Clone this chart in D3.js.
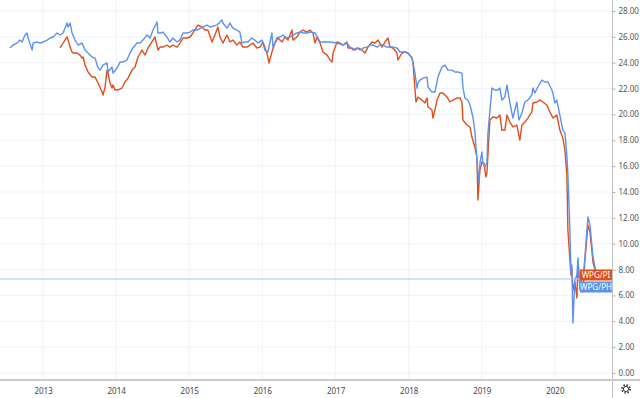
<!DOCTYPE html>
<html>
<head>
<meta charset="utf-8">
<script src="https://cdn.jsdelivr.net/npm/d3@7"></script>
<style>
	body { margin: 0; background: #fff; }
	text { font-family: "Noto Sans", sans-serif; }
</style>
</head>
<body>
<div id="chart"></div>
<script>
// decimal years
const phDates = [2012.549, 2012.590, 2012.644, 2012.685, 2012.713, 2012.754, 2012.781, 2012.795, 2012.850, 2012.863,
	2012.918, 2012.959, 2013.000, 2013.055, 2013.096, 2013.137, 2013.191, 2013.232, 2013.273, 2013.301,
	2013.328, 2013.342, 2013.369, 2013.396, 2013.437, 2013.478, 2013.533, 2013.574, 2013.615, 2013.670,
	2013.711, 2013.752, 2013.779, 2013.820, 2013.875, 2013.889, 2013.943, 2013.957, 2014.012, 2014.053,
	2014.094, 2014.148, 2014.189, 2014.230, 2014.285, 2014.326, 2014.367, 2014.422, 2014.463, 2014.504,
	2014.559, 2014.572, 2014.600, 2014.641, 2014.695, 2014.736, 2014.777, 2014.832, 2014.873, 2014.914,
	2014.969, 2015.010, 2015.051, 2015.105, 2015.187, 2015.242, 2015.283, 2015.379, 2015.447, 2015.461,
	2015.516, 2015.557, 2015.598, 2015.652, 2015.693, 2015.721, 2015.762, 2015.803, 2015.857, 2015.898,
	2015.939, 2015.994, 2016.035, 2016.076, 2016.131, 2016.144, 2016.199, 2016.240, 2016.281, 2016.336,
	2016.377, 2016.418, 2016.473, 2016.514, 2016.555, 2016.609, 2016.650, 2016.719, 2016.760, 2016.787,
	2016.828, 2016.924, 2017.020, 2017.102, 2017.156, 2017.197, 2017.238, 2017.293, 2017.334, 2017.375,
	2017.430, 2017.471, 2017.512, 2017.566, 2017.607, 2017.648, 2017.703, 2017.744, 2017.785, 2017.840,
	2017.881, 2017.949, 2017.990, 2018.045, 2018.086, 2018.113, 2018.127, 2018.154, 2018.195, 2018.250,
	2018.264, 2018.318, 2018.359, 2018.400, 2018.455, 2018.496, 2018.537, 2018.592, 2018.633, 2018.674,
	2018.728, 2018.742, 2018.769, 2018.810, 2018.838, 2018.879, 2018.906, 2018.933, 2018.961, 2018.974,
	2019.002, 2019.015, 2019.043, 2019.070, 2019.084, 2019.139, 2019.180, 2019.221, 2019.248, 2019.275,
	2019.316, 2019.344, 2019.385, 2019.426, 2019.480, 2019.508, 2019.549, 2019.590, 2019.631, 2019.685,
	2019.699, 2019.726, 2019.767, 2019.822, 2019.863, 2019.904, 2019.959, 2019.973, 2020.000, 2020.027,
	2020.068, 2020.109, 2020.137, 2020.164, 2020.178, 2020.205, 2020.219, 2020.232, 2020.246, 2020.273,
	2020.301, 2020.315, 2020.342, 2020.369, 2020.383, 2020.410, 2020.451, 2020.479, 2020.520, 2020.547,
	2020.574, 2020.615];
const phValues = [25.14, 25.37, 25.52, 25.75, 25.60, 26.14, 26.30, 25.91, 24.98, 25.52,
	25.60, 25.52, 25.60, 25.75, 25.91, 25.99, 26.30, 26.14, 26.30, 26.68,
	27.07, 26.76, 27.07, 26.30, 25.75, 25.37, 25.52, 24.98, 24.75, 24.44,
	24.36, 23.59, 23.43, 23.82, 23.98, 23.28, 23.67, 23.20, 23.59, 24.05,
	24.05, 24.21, 24.75, 25.14, 25.52, 25.52, 25.75, 26.14, 25.91, 26.53,
	27.15, 26.30, 26.30, 26.37, 25.99, 25.60, 25.91, 25.60, 25.75, 26.30,
	26.30, 26.37, 26.53, 26.53, 26.76, 26.91, 26.76, 26.91, 27.30, 27.07,
	26.68, 27.07, 26.68, 26.53, 26.37, 25.52, 25.60, 25.60, 25.91, 25.75,
	25.52, 25.75, 24.98, 24.83, 26.30, 25.21, 25.91, 25.99, 26.14, 25.91,
	25.99, 26.14, 26.30, 26.37, 26.30, 26.30, 26.37, 26.30, 25.91, 25.60,
	25.60, 25.60, 25.52, 25.37, 25.52, 25.21, 24.98, 25.14, 24.98, 25.14,
	25.21, 25.37, 25.37, 25.21, 25.37, 25.37, 25.21, 25.21, 25.21, 25.14,
	24.83, 24.83, 24.75, 24.36, 23.20, 22.04, 22.43, 22.66, 22.81, 22.89,
	22.12, 21.73, 21.73, 22.89, 23.67, 23.82, 23.43, 23.43, 23.28, 23.28,
	23.20, 22.12, 21.27, 21.11, 20.73, 19.80, 18.64, 16.47, 14.69, 16.24,
	17.09, 16.24, 15.93, 16.24, 18.56, 22.04, 21.89, 21.89, 22.04, 21.11,
	21.35, 22.27, 20.88, 19.72, 20.96, 19.57, 20.11, 20.96, 21.11, 21.50,
	22.04, 21.66, 22.12, 22.66, 22.51, 22.51, 21.89, 21.66, 20.88, 21.11,
	19.95, 18.79, 18.56, 16.86, 15.31, 11.06, 7.73, 8.35, 3.87, 7.19,
	7.58, 8.89, 6.42, 7.73, 7.19, 8.97, 12.07, 11.45, 8.97, 8.20,
	7.42, 7.27];

const piDates = [2013.232, 2013.273, 2013.328, 2013.342, 2013.369, 2013.396, 2013.410, 2013.465, 2013.506, 2013.533,
	2013.547, 2013.574, 2013.615, 2013.670, 2013.711, 2013.752, 2013.807, 2013.820, 2013.848, 2013.875,
	2013.889, 2013.916, 2013.943, 2013.957, 2013.984, 2014.025, 2014.080, 2014.121, 2014.162, 2014.217,
	2014.258, 2014.299, 2014.353, 2014.395, 2014.436, 2014.504, 2014.531, 2014.572, 2014.600, 2014.641,
	2014.695, 2014.736, 2014.777, 2014.832, 2014.873, 2014.914, 2014.969, 2015.010, 2015.051, 2015.119,
	2015.174, 2015.215, 2015.256, 2015.310, 2015.351, 2015.392, 2015.420, 2015.461, 2015.516, 2015.557,
	2015.598, 2015.652, 2015.693, 2015.734, 2015.789, 2015.830, 2015.871, 2015.926, 2015.967, 2016.008,
	2016.063, 2016.090, 2016.131, 2016.172, 2016.213, 2016.268, 2016.309, 2016.350, 2016.404, 2016.418,
	2016.473, 2016.514, 2016.555, 2016.609, 2016.650, 2016.691, 2016.719, 2016.746, 2016.787, 2016.828,
	2016.883, 2016.924, 2016.951, 2016.965, 2017.020, 2017.061, 2017.102, 2017.156, 2017.170, 2017.225,
	2017.266, 2017.307, 2017.361, 2017.402, 2017.443, 2017.498, 2017.539, 2017.580, 2017.635, 2017.676,
	2017.717, 2017.744, 2017.785, 2017.840, 2017.853, 2017.908, 2017.949, 2017.990, 2018.045, 2018.058,
	2018.099, 2018.127, 2018.181, 2018.222, 2018.250, 2018.264, 2018.318, 2018.332, 2018.359, 2018.387,
	2018.428, 2018.469, 2018.523, 2018.564, 2018.605, 2018.660, 2018.701, 2018.728, 2018.742, 2018.797,
	2018.838, 2018.865, 2018.906, 2018.933, 2018.947, 2018.974, 2019.002, 2019.029, 2019.056, 2019.070,
	2019.111, 2019.152, 2019.207, 2019.248, 2019.275, 2019.316, 2019.344, 2019.385, 2019.426, 2019.480,
	2019.521, 2019.549, 2019.590, 2019.631, 2019.685, 2019.699, 2019.754, 2019.795, 2019.836, 2019.890,
	2019.932, 2019.973, 2020.027, 2020.068, 2020.109, 2020.137, 2020.164, 2020.178, 2020.219, 2020.232,
	2020.246, 2020.273, 2020.301, 2020.315, 2020.342, 2020.383, 2020.410, 2020.451, 2020.479, 2020.520,
	2020.547, 2020.574, 2020.615];
const piValues = [25.14, 25.52, 25.99, 25.75, 25.21, 24.83, 24.75, 24.75, 24.59, 24.36,
	24.44, 23.82, 23.28, 22.89, 22.89, 22.43, 21.73, 21.50, 22.12, 23.43,
	23.20, 22.43, 22.04, 22.27, 21.89, 21.89, 22.04, 22.51, 22.81, 23.43,
	23.67, 24.44, 24.98, 24.59, 25.14, 25.75, 25.99, 24.98, 25.21, 25.21,
	25.37, 25.21, 25.37, 25.21, 25.52, 25.91, 25.91, 25.99, 26.30, 26.91,
	26.76, 26.53, 26.53, 25.60, 26.14, 26.76, 25.99, 25.52, 26.14, 25.60,
	25.75, 25.37, 25.60, 25.21, 25.21, 25.37, 25.52, 25.14, 25.21, 25.60,
	24.75, 23.98, 24.83, 25.52, 25.91, 25.60, 25.99, 25.75, 26.53, 25.75,
	25.99, 26.37, 26.53, 26.37, 26.53, 26.30, 25.52, 25.99, 25.52, 24.83,
	24.59, 24.21, 24.05, 24.75, 25.60, 25.52, 25.37, 25.60, 25.14, 25.14,
	24.98, 25.14, 24.98, 24.75, 25.21, 25.60, 25.52, 25.75, 25.21, 25.60,
	25.91, 25.21, 25.14, 24.75, 24.21, 24.75, 24.83, 24.75, 24.36, 24.05,
	20.96, 21.35, 21.11, 20.88, 21.27, 20.57, 20.34, 19.72, 20.34, 21.11,
	21.66, 21.66, 21.35, 20.96, 21.11, 21.27, 21.27, 20.96, 19.57, 19.18,
	19.03, 18.25, 17.48, 16.71, 13.38, 15.70, 16.32, 16.24, 15.16, 15.47,
	19.57, 19.80, 19.72, 19.95, 18.79, 18.79, 19.95, 19.41, 19.03, 19.18,
	18.02, 19.18, 19.41, 19.72, 20.19, 20.88, 20.96, 21.11, 20.96, 20.73,
	20.19, 19.72, 19.95, 18.79, 18.17, 17.25, 15.31, 11.06, 7.58, 8.12,
	6.42, 7.04, 5.80, 8.58, 6.81, 6.26, 8.74, 11.45, 10.91, 8.58,
	7.97, 7.66, 7.58];

const yTicks = [0, 2, 4, 6, 8, 10, 12, 14, 16, 18, 20, 22, 24, 26, 28];
const seriesNames = ["WPG/PI", "WPG/PH"];
const colors = { pi: "#e04e1b", ph: "#5b92f2" };

const W = 640, H = 398;
const plotW = 612, axisY = 380;

function toDate(t) {
	const y = Math.floor(t);
	const a = new Date(y, 0, 1), b = new Date(y + 1, 0, 1);
	return new Date(+a + (t - y) * (b - a));
}

const svg = d3.select("#chart").append("svg")
	.attr("width", W)
	.attr("height", H);

const x = d3.scaleTime()
	.domain([toDate(2012.412), toDate(2012.412 + plotW / 73.14)])
	.range([0, plotW]);

const y = d3.scaleLinear()
	.domain([0, 28])
	.range([373, 11]);

// grid
svg.append("g")
	.selectAll("line")
	.data(yTicks)
	.enter()
	.append("line")
	.attr("x1", 0).attr("x2", plotW)
	.attr("y1", (d) => y(d)).attr("y2", (d) => y(d))
	.style("stroke", "#f0f3fa");

const years = x.ticks(d3.timeYear.every(1));
svg.append("g")
	.selectAll("line")
	.data(years)
	.enter()
	.append("line")
	.attr("x1", (d) => x(d)).attr("x2", (d) => x(d))
	.attr("y1", 0).attr("y2", axisY)
	.style("stroke", "#f0f3fa");

// lines
const piData = piDates.map((d, i) => ({ date: toDate(d), value: piValues[i] }));
const phData = phDates.map((d, i) => ({ date: toDate(d), value: phValues[i] }));

const line = d3.line()
	.x((d) => x(d.date))
	.y((d) => y(d.value));

svg.append("path")
	.datum(piData)
	.attr("d", line)
	.style("fill", "none")
	.style("stroke", colors.pi)
	.style("stroke-width", 1.4)
	.style("stroke-linejoin", "round");

svg.append("path")
	.datum(phData)
	.attr("d", line)
	.style("fill", "none")
	.style("stroke", colors.ph)
	.style("stroke-width", 1.4)
	.style("stroke-linejoin", "round");

// last price line
const lastPh = phValues[phValues.length - 1];
const lastPi = piValues[piValues.length - 1];
svg.append("line")
	.attr("x1", 0).attr("x2", plotW)
	.attr("y1", y(lastPh)).attr("y2", y(lastPh))
	.style("stroke", "#a9c5f5")
	.style("stroke-width", 1);

// axes
svg.append("line")
	.attr("x1", 0).attr("x2", W)
	.attr("y1", axisY).attr("y2", axisY)
	.style("stroke", "#b8b8b8")
	.style("stroke-width", 1.6);

svg.append("line")
	.attr("x1", plotW + 0.5).attr("x2", plotW + 0.5)
	.attr("y1", 0).attr("y2", H)
	.style("stroke", "#c4c4c4");

const yAxis = svg.append("g")
	.attr("transform", `translate(${plotW + 0.5},0)`)
	.call(d3.axisRight(y).tickValues(yTicks).tickFormat(d3.format(".2f")).tickSize(3).tickPadding(3));
yAxis.select(".domain").remove();
yAxis.selectAll("line").style("stroke", "#b0b0b0");
yAxis.selectAll("text")
	.style("font-size", "8px")
	.style("fill", "#555");

const xAxis = svg.append("g")
	.attr("transform", `translate(0,${axisY})`)
	.call(d3.axisBottom(x).ticks(d3.timeYear.every(1)).tickFormat(d3.timeFormat("%Y")).tickSize(0).tickPadding(8));
xAxis.select(".domain").remove();
xAxis.selectAll("text")
	.style("font-size", "8px")
	.style("fill", "#444");

// series labels on the price scale
const piY = y(lastPi);
const phY = Math.max(y(lastPh), piY + 12);
const labels = [
	{ name: seriesNames[0], cy: piY, color: colors.pi },
	{ name: seriesNames[1], cy: phY, color: colors.ph },
];
const lab = svg.append("g")
	.selectAll("g")
	.data(labels)
	.enter()
	.append("g")
	.attr("transform", (d) => `translate(580,${d.cy})`);
lab.append("rect")
	.attr("x", 0).attr("y", -5.5)
	.attr("width", plotW - 580).attr("height", 11)
	.style("fill", (d) => d.color);
lab.append("text")
	.attr("x", (plotW - 580) / 2).attr("y", 3)
	.attr("text-anchor", "middle")
	.style("font-size", "8px")
	.style("fill", "#fff")
	.text((d) => d.name);

// settings gear
const gear = svg.append("g").attr("transform", "translate(626,389)");
gear.append("circle")
	.attr("r", 4)
	.style("fill", "none")
	.style("stroke", "#333")
	.style("stroke-width", 1.6)
	.style("stroke-dasharray", "1.6 1.54");
gear.append("circle")
	.attr("r", 2.6)
	.style("fill", "#fff")
	.style("stroke", "#333")
	.style("stroke-width", 1);
</script>
</body>
</html>
